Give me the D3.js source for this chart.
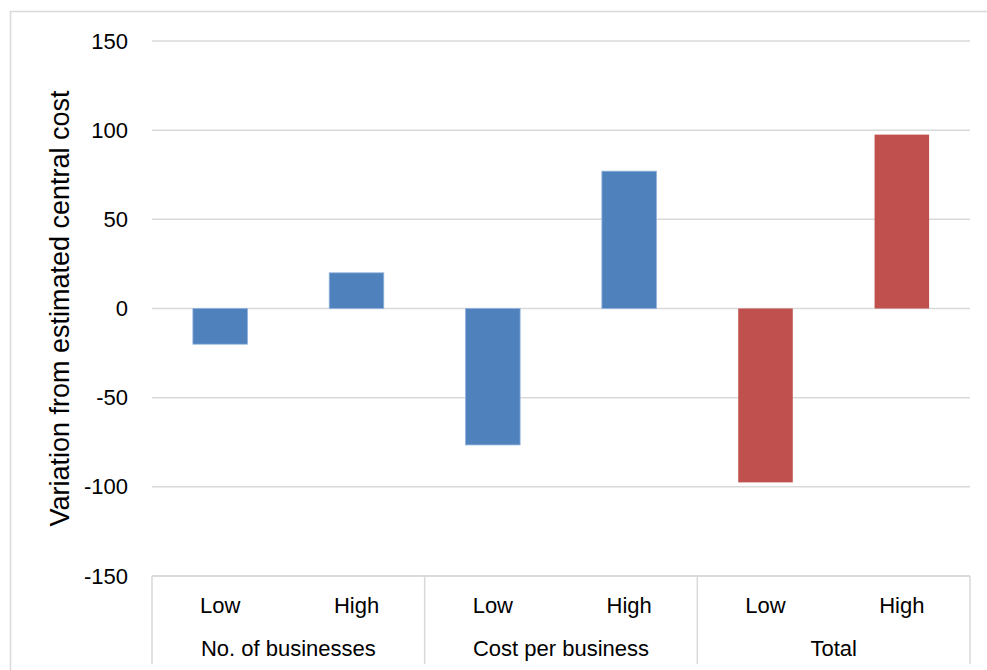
<!DOCTYPE html>
<html>
<head>
<meta charset="utf-8">
<script src="https://cdn.jsdelivr.net/npm/d3@7"></script>
<style>
  html, body { margin: 0; padding: 0; background: #fff; }
  svg { display: block; font-family: "Liberation Sans", Arial, sans-serif; }
</style>
</head>
<body>
<svg id="chart" width="987" height="670"></svg>
<script>
// Sensitivity of estimated cost to low/high assumptions
const groups = ["No. of businesses", "Cost per business", "Total"];
const levels = ["Low", "High"];
const values = [-20, 20, -76.5, 77, -97.5, 97.5];
const barColors = ["#4F81BD", "#4F81BD", "#4F81BD", "#4F81BD", "#C0504D", "#C0504D"];
const yTicks = [-150, -100, -50, 0, 50, 100, 150];
const yLabel = "Variation from estimated central cost";

const svg = d3.select("#chart");
const margin = { left: 152, right: 17, top: 41, bottom: 94 };
const W = 987, H = 670;
const plotW = W - margin.left - margin.right;
const plotH = H - margin.top - margin.bottom;

// outer frame
svg.append("path")
  .attr("d", `M10.5,${H} L10.5,11.5 L${W},11.5`)
  .attr("fill", "none").attr("stroke", "#d9d9d9").attr("stroke-width", 1.5);

const g = svg.append("g").attr("transform", `translate(${margin.left},${margin.top})`);

const cats = d3.range(values.length);
const x = d3.scaleBand().domain(cats).range([0, plotW]).paddingInner(0.6).paddingOuter(0.3);
const y = d3.scaleLinear().domain([-150, 150]).range([plotH, 0]);

// gridlines
g.append("g").selectAll("line").data(yTicks).join("line")
  .attr("x1", 0).attr("x2", plotW)
  .attr("y1", d => y(d)).attr("y2", d => y(d))
  .attr("stroke", "#d9d9d9").attr("stroke-width", 1.5);

// y tick labels
const yAxis = g.append("g").call(d3.axisLeft(y).tickValues(yTicks).tickSize(0).tickPadding(24).tickFormat(d => String(d)));
yAxis.select(".domain").remove();
yAxis.selectAll("text").attr("font-size", 22).attr("fill", "#000")
  .attr("font-family", "'Liberation Sans', Arial, sans-serif");

// bars
g.append("g").selectAll("rect").data(cats).join("rect")
  .attr("x", i => x(i))
  .attr("width", x.bandwidth())
  .attr("y", i => y(Math.max(0, values[i])))
  .attr("height", i => Math.abs(y(values[i]) - y(0)))
  .attr("fill", i => barColors[i])
  .attr("stroke", i => i < 4 ? "#8fb0dc" : "none")
  .attr("stroke-width", 0.8);

// category axis: bottom line and group separators
const groupW = plotW / groups.length;
g.append("line").attr("x1", 0).attr("x2", plotW).attr("y1", plotH).attr("y2", plotH)
  .attr("stroke", "#d9d9d9").attr("stroke-width", 1.5);
g.append("g").selectAll("line").data(d3.range(groups.length + 1)).join("line")
  .attr("x1", i => i * groupW).attr("x2", i => i * groupW)
  .attr("y1", plotH).attr("y2", plotH + 88)
  .attr("stroke", "#d9d9d9").attr("stroke-width", 1.5);

// level labels
g.append("g").selectAll("text").data(cats).join("text")
  .attr("x", i => x(i) + x.bandwidth() / 2)
  .attr("y", plotH + 37)
  .attr("text-anchor", "middle")
  .attr("font-size", 22)
  .text(i => levels[i % 2]);

// group labels
g.append("g").selectAll("text").data(groups).join("text")
  .attr("x", (d, i) => (i + 0.5) * groupW)
  .attr("y", plotH + 80)
  .attr("text-anchor", "middle")
  .attr("font-size", 22)
  .text(d => d);

// y axis title
svg.append("text")
  .attr("transform", `translate(69,${margin.top + plotH / 2}) rotate(-90)`)
  .attr("text-anchor", "middle")
  .attr("font-size", 27)
  .text(yLabel);
</script>
</body>
</html>
